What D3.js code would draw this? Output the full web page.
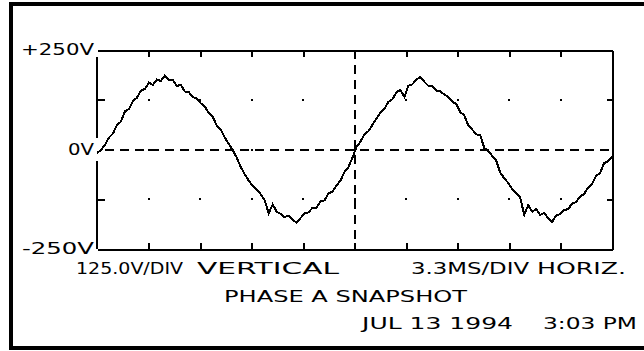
<!DOCTYPE html>
<html>
<head>
<meta charset="utf-8">
<script src="https://cdn.jsdelivr.net/npm/d3@7"></script>
<style>
  body { margin: 0; background: #fff; }
  text { font-family: "DejaVu Sans", sans-serif; fill: #000; }
</style>
</head>
<body>
<div id="scope"></div>
<script>
// phase A voltage left to right (V), 33 ms sweep
var volts = [
  -8, -2, 12, 30, 40, 62, 70, 96, 102, 122,
  130, 148, 152, 168, 162, 176, 172, 186, 174, 174,
  160, 162, 146, 144, 132, 128, 116, 108, 92, 82,
  60, 50, 30, 14, -2, -20, -44, -62, -78, -92,
  -100, -112, -128, -160, -138, -156, -162, -170, -166, -176,
  -184, -172, -160, -158, -146, -146, -130, -128, -110, -106,
  -90, -78, -56, -44, -20, 6, 20, 38, 46, 62,
  78, 92, 102, 120, 126, 144, 150, 132, 160, 164,
  176, 182, 170, 160, 160, 148, 146, 138, 132, 120,
  114, 94, 86, 60, 50, 38, 36, 4, -4, -16,
  -28, -58, -72, -84, -100, -110, -120, -164, -140, -156,
  -150, -164, -160, -172, -182, -166, -162, -152, -150, -136,
  -132, -118, -112, -96, -86, -66, -60, -34, -30, -18
];
var sweepMs = 33;          // 3.3 ms/div x 10 div
var xDivs = [3.3, 6.6, 9.9, 13.2, 16.5, 19.8, 23.1, 26.4, 29.7];
var yDivs = [-125, 125];
var yLabelValues = [250, 0, -250];
var yLabelText = ["+250V", "0V", "-250V"];
var footerRow1 = ["125.0V/DIV", "VERTICAL", "3.3MS/DIV", "HORIZ."];
var footerRow2 = ["PHASE A SNAPSHOT"];
var footerRow3 = ["JUL 13 1994", "3:03 PM"];

var W = 644, H = 351;
var margin = {top: 50, right: 32, bottom: 102, left: 97};

var svg = d3.select("#scope").append("svg")
    .attr("width", W)
    .attr("height", H);

// outer frame
svg.append("rect")
    .attr("x", 11).attr("y", 4)
    .attr("width", 650).attr("height", 344)
    .attr("fill", "none").attr("stroke", "#000").attr("stroke-width", 4);

var x = d3.scaleLinear().domain([0, sweepMs]).range([margin.left, W - margin.right]);
var y = d3.scaleLinear().domain([-250, 250]).range([H - margin.bottom, margin.top]);

function styleAxis(g) {
  g.selectAll("path,line").attr("stroke", "#000").attr("stroke-width", 2)
      .attr("shape-rendering", "crispEdges");
  g.selectAll("text").remove();
}

svg.append("g")
    .attr("transform", "translate(0," + y(250) + ")")
    .call(d3.axisTop(x).tickValues(xDivs).tickSize(-7).tickSizeOuter(0).tickFormat(""))
    .call(styleAxis);

svg.append("g")
    .attr("transform", "translate(0," + y(-250) + ")")
    .call(d3.axisBottom(x).tickValues(xDivs).tickSize(-6).tickSizeOuter(0).tickFormat(""))
    .call(styleAxis);

svg.append("g")
    .attr("transform", "translate(" + x(sweepMs) + ",0)")
    .call(d3.axisRight(y).tickValues(yDivs).tickSize(-5).tickSizeOuter(0).tickFormat(""))
    .call(styleAxis);

var left = svg.append("g")
    .attr("transform", "translate(" + x(0) + ",0)")
    .call(d3.axisLeft(y).tickValues(yDivs).tickSize(-8).tickSizeOuter(0).tickFormat(""))
    .call(styleAxis);
left.select(".domain").remove();
// left edge is broken near the top corner and around 0V on the original
[[232, 30], [-30, -250]].forEach(function(s) {
  left.append("line")
      .attr("x1", 0).attr("x2", 0)
      .attr("y1", y(s[0])).attr("y2", y(s[1]))
      .attr("stroke", "#000").attr("stroke-width", 2)
      .attr("shape-rendering", "crispEdges");
});

// grid dots
var dots = [];
xDivs.forEach(function(t) { [-125, 0, 125].forEach(function(v) { dots.push([t, v]); }); });
svg.append("g").selectAll("rect")
    .data(dots)
    .enter().append("rect")
    .attr("x", function(d) { return Math.round(x(d[0])) - 1; })
    .attr("y", function(d) { return Math.round(y(d[1])) - 1; })
    .attr("width", 2).attr("height", 2)
    .attr("fill", "#000");

// 0V and centre crosshair
svg.append("line")
    .attr("x1", x(0) + 4).attr("x2", x(sweepMs))
    .attr("y1", y(0)).attr("y2", y(0))
    .attr("stroke", "#000").attr("stroke-width", 2)
    .attr("shape-rendering", "crispEdges")
    .attr("stroke-dasharray", "9,6").attr("stroke-dashoffset", -4);
svg.append("line")
    .attr("x1", x(sweepMs / 2)).attr("x2", x(sweepMs / 2))
    .attr("y1", y(250)).attr("y2", y(-250))
    .attr("stroke", "#000").attr("stroke-width", 2)
    .attr("shape-rendering", "crispEdges")
    .attr("stroke-dasharray", "9,6");

// trace
var line = d3.line()
    .x(function(d, i) { return x(i * sweepMs / (volts.length - 1)); })
    .y(function(d) { return y(d); });
svg.append("path")
    .datum(volts)
    .attr("d", line)
    .attr("fill", "none")
    .attr("stroke", "#000")
    .attr("stroke-width", 2)
    .attr("shape-rendering", "crispEdges")
    .attr("stroke-linejoin", "miter");

// scale labels
var labelW = [73, 26, 72];
yLabelValues.forEach(function(v, i) {
  svg.append("text")
      .attr("x", 94).attr("y", y(v) + 5)
      .attr("text-anchor", "end")
      .attr("textLength", labelW[i])
      .attr("lengthAdjust", "spacingAndGlyphs")
      .style("font-size", "15px")
      .text(yLabelText[i]);
});

// footer text
var rows = [
  {texts: footerRow1, xs: [76, 197, 411, 537], ws: [107, 142, 118, 89], base: 274},
  {texts: footerRow2, xs: [224], ws: [243], base: 302},
  {texts: footerRow3, xs: [362, 543], ws: [151, 94], base: 329}
];
rows.forEach(function(r) {
  r.texts.forEach(function(t, i) {
    svg.append("text")
        .attr("x", r.xs[i]).attr("y", r.base)
        .attr("textLength", r.ws[i])
        .attr("lengthAdjust", "spacingAndGlyphs")
        .style("font-size", "15px")
        .text(t);
  });
});
</script>
</body>
</html>
